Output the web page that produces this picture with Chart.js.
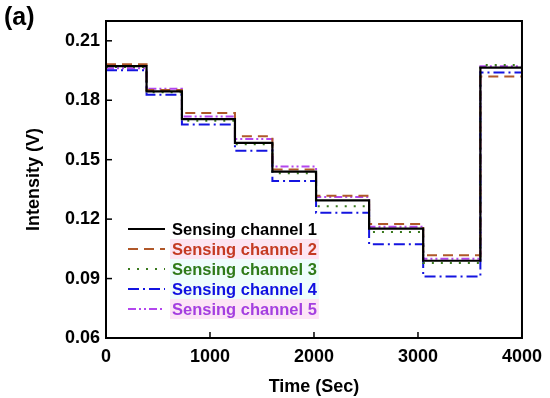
<!DOCTYPE html>
<html>
<head>
<meta charset="utf-8">
<script src="https://cdn.jsdelivr.net/npm/chart.js@4/dist/chart.umd.min.js"></script>
<style>
  html, body { margin: 0; padding: 0; background: #fff; }
  #wrap { width: 550px; height: 398px; }
</style>
</head>
<body>
<div id="wrap"><canvas id="intensityChart"></canvas></div>
<script>
'use strict'

//++++++++++++++ Data ++++++++++++++//
// times (sec) where each concentration step starts, last one is the end of the run
let stepTimes = [0, 390, 730, 1240, 1600, 2020, 2530, 3050, 3600, 4000];

let channel1 = [0.1972, 0.1845, 0.1705, 0.1585, 0.1440, 0.1295, 0.1152, 0.0990, 0.1965];
let channel2 = [0.1982, 0.1852, 0.1736, 0.1618, 0.1450, 0.1318, 0.1175, 0.1018, 0.1920];
let channel3 = [0.1968, 0.1840, 0.1697, 0.1578, 0.1432, 0.1265, 0.1135, 0.0978, 0.1978];
let channel4 = [0.1952, 0.1828, 0.1678, 0.1545, 0.1392, 0.1232, 0.1073, 0.0910, 0.1940];
let channel5 = [0.1962, 0.1858, 0.1718, 0.1605, 0.1465, 0.1312, 0.1162, 0.1000, 0.1972];

let channelNames = ['Sensing channel 1', 'Sensing channel 2', 'Sensing channel 3', 'Sensing channel 4', 'Sensing channel 5'];

let xTicks = [0, 1000, 2000, 3000, 4000];
let yTicks = [0.06, 0.09, 0.12, 0.15, 0.18, 0.21];

//++++++++++++++ Styles ++++++++++++++//
let lineColors = ['#000000', '#B0582A', '#3A7A1E', '#1414E0', '#B347EE'];
let textColors = ['#000000', '#C43A22', '#2F7A18', '#1010E0', '#A43FE0'];
let labelBacks = [null, '#FDE4F2', '#EEFDFC', '#EEFDFC', '#FDE4F6'];
let dashes = [[], [10, 6], [2, 7], [11, 4, 2, 4], [8, 3, 2, 3, 2, 3]];

// step line -> points at the start of each level plus the end point
function buildSteps(levels) {
  let pts = [];
  for (let i = 0; i < levels.length; i++) {
    pts.push({ x: stepTimes[i], y: levels[i] });
  }
  pts.push({ x: stepTimes[stepTimes.length - 1], y: levels[levels.length - 1] });
  return pts;
}

let allChannels = [channel1, channel2, channel3, channel4, channel5];
let datasets = [];
// draw in reverse so the black line sits on top
for (let i = allChannels.length - 1; i >= 0; i--) {
  datasets.push({
    label: channelNames[i],
    data: buildSteps(allChannels[i]),
    borderColor: lineColors[i],
    borderDash: dashes[i],
    borderWidth: i === 0 ? 2.2 : 2,
    pointRadius: 0,
    stepped: 'before',
    fill: false,
    order: i
  });
}

//++++++++++++++ Plugins ++++++++++++++//
let boxAndTicks = {
  id: 'boxAndTicks',
  afterDraw(chart) {
    const ctx = chart.ctx;
    const a = chart.chartArea;
    ctx.save();
    ctx.strokeStyle = '#000';
    ctx.lineWidth = 2;
    ctx.setLineDash([]);
    ctx.strokeRect(a.left, a.top, a.right - a.left, a.bottom - a.top);
    ctx.lineWidth = 1.5;
    chart.scales.x.ticks.forEach(t => {
      let px = chart.scales.x.getPixelForValue(t.value);
      ctx.beginPath();
      ctx.moveTo(px, a.bottom);
      ctx.lineTo(px, a.bottom - 6);
      ctx.stroke();
    });
    chart.scales.y.ticks.forEach(t => {
      let py = chart.scales.y.getPixelForValue(t.value);
      ctx.beginPath();
      ctx.moveTo(a.left, py);
      ctx.lineTo(a.left + 6, py);
      ctx.stroke();
    });
    // panel letter
    ctx.fillStyle = '#000';
    ctx.font = 'bold 25px "Liberation Sans", Arial, sans-serif';
    ctx.textBaseline = 'middle';
    ctx.textAlign = 'left';
    ctx.fillText('(a)', 4, 18);
    ctx.restore();
  }
};

let insideLegend = {
  id: 'insideLegend',
  afterDraw(chart) {
    const ctx = chart.ctx;
    ctx.save();
    ctx.font = 'bold 16.5px "Liberation Sans", Arial, sans-serif';
    ctx.textBaseline = 'middle';
    ctx.textAlign = 'left';
    for (let i = 0; i < channelNames.length; i++) {
      let y = 229 + i * 20;
      let w = ctx.measureText(channelNames[i]).width;
      if (labelBacks[i]) {
        ctx.fillStyle = labelBacks[i];
        ctx.fillRect(170, y - 10, w + 4, 20);
      }
      ctx.strokeStyle = lineColors[i];
      ctx.lineWidth = 2;
      ctx.setLineDash(dashes[i]);
      ctx.beginPath();
      ctx.moveTo(128, y);
      ctx.lineTo(165, y);
      ctx.stroke();
      ctx.fillStyle = textColors[i];
      ctx.fillText(channelNames[i], 172, y + 1);
    }
    ctx.restore();
  }
};

//++++++++++++++ Chart ++++++++++++++//
const tickFont = { family: '"Liberation Sans", Arial, sans-serif', size: 18, weight: 'bold' };
const titleFont = { family: '"Liberation Sans", Arial, sans-serif', size: 18, weight: 'bold' };

const ctx = document.getElementById('intensityChart').getContext('2d');
const intensityChart = new Chart(ctx, {
  type: 'line',
  data: { datasets: datasets },
  options: {
    responsive: true,
    maintainAspectRatio: false,
    animation: false,
    layout: { padding: { left: 0, right: 26, top: 21, bottom: 0 } },
    plugins: {
      legend: { display: false },
      tooltip: { enabled: false }
    },
    scales: {
      x: {
        type: 'linear',
        min: 0,
        max: 4000,
        afterBuildTicks: scale => { scale.ticks = xTicks.map(v => ({ value: v })); },
        afterFit: scale => { scale.height = 60; },
        grid: { display: false, drawTicks: false },
        border: { display: false },
        ticks: { color: '#000', font: tickFont, padding: 8, maxRotation: 0, callback: v => String(v) },
        title: { display: true, text: 'Time (Sec)', color: '#000', font: titleFont, padding: { top: 7, bottom: 0 } }
      },
      y: {
        min: 0.06,
        max: 0.22,
        afterBuildTicks: scale => { scale.ticks = yTicks.map(v => ({ value: v })); },
        afterFit: scale => { scale.width = 106; },
        grid: { display: false, drawTicks: false },
        border: { display: false },
        ticks: { color: '#000', font: tickFont, padding: 6, callback: v => v.toFixed(2) },
        title: { display: true, text: 'Intensity (V)', color: '#000', font: titleFont, padding: { top: 23, bottom: 0 } }
      }
    }
  },
  plugins: [boxAndTicks, insideLegend]
});
</script>
</body>
</html>
